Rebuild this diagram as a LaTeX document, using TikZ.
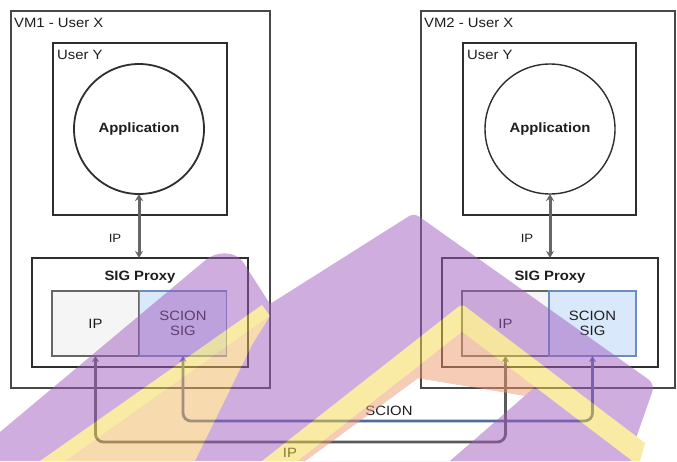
\documentclass[tikz,border=0pt]{standalone}
\usepackage{fontspec}
\setmainfont{Liberation Sans}[FakeStretch=1.1]
\usetikzlibrary{arrows.meta}

\definecolor{txt}{HTML}{1E1E1E}
\definecolor{boxline}{HTML}{2E2E2E}
\definecolor{vmline}{HTML}{484848}
\definecolor{ipfill}{HTML}{F5F5F5}
\definecolor{ipline}{HTML}{666666}
\definecolor{sigfill}{HTML}{DAE8FC}
\definecolor{sigline}{HTML}{6C8EBF}
\definecolor{iplink}{HTML}{5A5A5A}
\definecolor{scionlink}{HTML}{4F6A9C}
\definecolor{wmpurple}{RGB}{160,92,192}
\definecolor{wmyellow}{RGB}{245,215,75}
\definecolor{wmpeach}{RGB}{239,155,113}

\begin{document}
\begin{tikzpicture}[x=1pt,y=-1pt,
  every node/.style={text=txt, font=\fontsize{13.5}{15.5}\selectfont},
  vmframe/.style={draw=vmline, line width=2pt, inner sep=0pt, outer sep=0pt,
    minimum height=377pt},
  userbox/.style={draw=boxline, line width=2.2pt, inner sep=0pt, outer sep=0pt,
    minimum width=174pt, minimum height=172pt},
  appcircle/.style={circle, draw=boxline, line width=#1, minimum size=130pt,
    inner sep=0pt, outer sep=0pt, font=\bfseries\fontsize{13.5}{15.5}\selectfont},
  proxybox/.style={draw=boxline, line width=2.2pt, inner sep=0pt, outer sep=0pt,
    minimum width=216pt, minimum height=109pt},
  ipcell/.style={draw=ipline, fill=ipfill, line width=1.4pt, inner sep=0pt,
    outer sep=0pt, minimum width=87pt, minimum height=65pt},
  sigcell/.style={draw=sigline, fill=sigfill, line width=1.4pt, inner sep=0pt,
    outer sep=0pt, minimum width=87pt, minimum height=65pt, align=center},
  title/.style={anchor=west, inner sep=0pt},
  heading/.style={inner sep=0pt, font=\bfseries\fontsize{13.5}{15.5}\selectfont},
  smalllabel/.style={inner sep=0pt, font=\fontsize{12}{14}\selectfont},
  linklabel/.style={inner sep=0pt},
  localarrow/.style={draw=ipline, line width=3pt,
    {Stealth[length=7pt,width=8pt]}-{Stealth[length=7pt,width=8pt]}},
  iproute/.style={draw=iplink, line width=2.8pt, rounded corners=8pt,
    {Stealth[length=6pt,width=7pt]}-{Stealth[length=6pt,width=7pt]}},
  scionroute/.style={draw=scionlink, line width=2.8pt, rounded corners=8pt,
    {Stealth[length=6pt,width=7pt]}-{Stealth[length=6pt,width=7pt]}}
]
\useasboundingbox (0,0) rectangle (677,461);
\fill[white] (0,0) rectangle (677,461);

% ---- first virtual machine ----
\node[vmframe, minimum width=259pt] (vm1) at (140.5,199) {};
\node[title] (vm1t) at (14,23) {VM1 - User X};
\node[userbox] (uy1) at (140,129) {};
\node[title] (uy1t) at (57,55) {User Y};
\node[appcircle=1.8pt] (app1) at (139,129) {Application};
\node[proxybox] (sig1) at (140,312.5) {};
\node[heading] (sig1t) at (140,277) {SIG Proxy};
\node[ipcell] (ip1) at (95.5,323.5) {IP};
\node[sigcell] (ss1) at (183,323.5) {SCION\\SIG};
\draw[localarrow] (app1.south) -- (app1.south |- sig1.north);
\node[smalllabel] (ipa1) at (115,238) {IP};

% ---- second virtual machine ----
\node[vmframe, minimum width=254pt] (vm2) at (548,199) {};
\node[title] (vm2t) at (424,23) {VM2 - User X};
\node[userbox, minimum width=173pt] (uy2) at (549.5,129) {};
\node[title] (uy2t) at (467,55) {User Y};
\node[appcircle=1.4pt] (app2) at (550,129) {Application};
\node[proxybox] (sig2) at (550,312.5) {};
\node[heading] (sig2t) at (550,277) {SIG Proxy};
\node[ipcell] (ip2) at (505.5,323.5) {IP};
\node[sigcell] (ss2) at (592.5,323.5) {SCION\\SIG};
\draw[localarrow] (app2.south) -- (app2.south |- sig2.north);
\node[smalllabel] (ipa2) at (527,238) {IP};

% ---- tunnels between the machines ----
\draw[scionroute] (ss1.south) -- ++(0,65) -| (ss2.south);
\draw[iproute] (ip1.south) -- ++(0,86) -| (ip2.south);
\node[linklabel] (scionl) at (389,411) {SCION};
\node[linklabel] (ipl) at (290,453) {IP};

% ---- translucent logo laid over the drawing ----
\begin{scope}[transparency group, opacity=0.5]
  \fill[wmpurple, even odd rule]
    (0,461) -- (0,432) [rounded corners=10pt] -- (214,253) -- (238,254)
    [sharp corners] -- (270,304) [rounded corners=6pt] -- (414,213)
    [rounded corners=8pt] -- (655,384) [sharp corners] -- (628,461) -- cycle
    (305,461) -- (418,378) -- (527,396) -- (450,461) -- cycle;
  \fill[wmyellow] (40,461) -- (262,305) -- (270,316) -- (66,461) -- cycle;
  \fill[wmyellow!45!wmpeach] (66,461) -- (270,316) -- (252,345) -- (195,461) -- cycle;
  \fill[wmyellow] (262,461) [rounded corners=4pt] -- (462,304) [sharp corners]
    -- (645,443) -- (640,461) -- (632,461) -- (462,332) -- (298,461) -- cycle;
  \fill[wmpeach] (298,461) -- (462,332) -- (535,387) -- (527,396)
    -- (418,378) -- (305,461) -- cycle;
  \fill[wmpurple] (450,461) -- (535,387) -- (632,461) -- cycle;
\end{scope}
\end{tikzpicture}
\end{document}
